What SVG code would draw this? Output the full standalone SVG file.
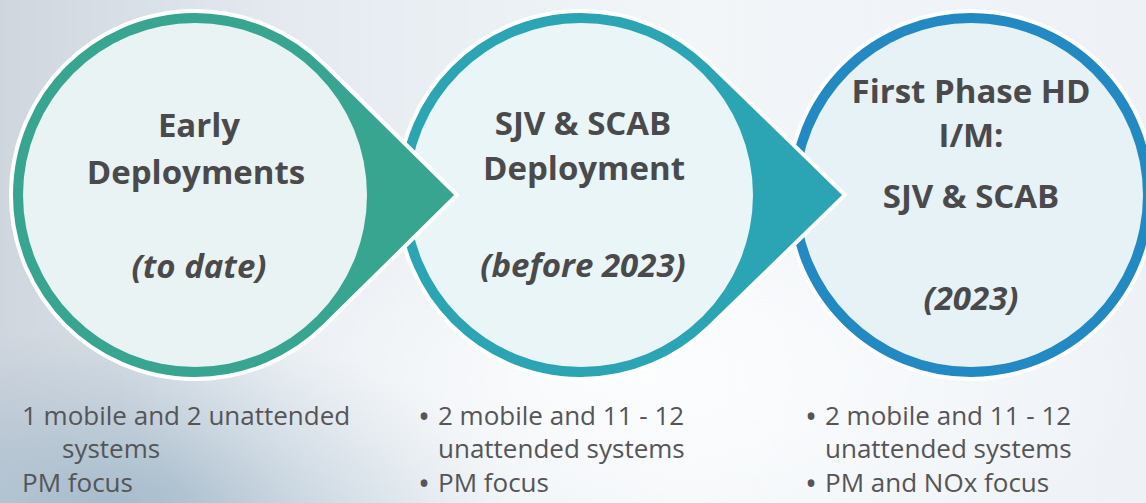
<svg xmlns="http://www.w3.org/2000/svg" width="1146" height="503" viewBox="0 0 1146 503">
  <defs>
    <linearGradient id="bg" x1="0" y1="0" x2="1" y2="0">
      <stop offset="0" stop-color="#d0d6de"/>
      <stop offset="0.25" stop-color="#e4eaf0"/>
      <stop offset="0.6" stop-color="#f2f6f9"/>
      <stop offset="1" stop-color="#eef2f7"/>
    </linearGradient>
    <radialGradient id="shade" cx="0.1" cy="1" r="0.35">
      <stop offset="0" stop-color="#a4bacb" stop-opacity="0.95"/>
      <stop offset="1" stop-color="#a8bccc" stop-opacity="0"/>
    </radialGradient>
    <radialGradient id="glow" cx="0.55" cy="0.75" r="0.45">
      <stop offset="0" stop-color="#ffffff" stop-opacity="0.8"/>
      <stop offset="1" stop-color="#ffffff" stop-opacity="0"/>
    </radialGradient>
    <style>
      .drop { stroke: #ffffff; stroke-width: 4; stroke-linejoin: miter; }
      .inner { stroke: none; }
      .head { font-family: "Open Sans", "Liberation Sans", sans-serif; font-weight: bold; font-size: 33px; fill: #4a4a4c; text-anchor: middle; }
      .ital { font-style: italic; }
      .body { font-family: "Open Sans", "Liberation Sans", sans-serif; font-size: 26px; fill: #555557; }
      .bul { font-size: 32px; }
    </style>
  </defs>

  <rect x="0" y="0" width="1146" height="503" fill="url(#bg)"/>
  <rect x="0" y="0" width="1146" height="503" fill="url(#shade)"/>
  <rect x="0" y="0" width="1146" height="503" fill="url(#glow)"/>

  <g id="node3">
    <circle cx="971" cy="195" r="184" class="drop" fill="#2389c3"/>
    <circle cx="971" cy="195" r="172" class="inner" fill="#e6f2f6"/>
    <text class="head" x="971" y="103">First Phase HD</text>
    <text class="head" x="971" y="147">I/M:</text>
    <text class="head" x="971" y="208">SJV &amp; SCAB</text>
    <text class="head ital" x="971" y="310">(2023)</text>
  </g>

  <g id="node2">
    <path d="M845,195 L709.3,63.1 A184,184 0 1 0 709.3,326.9 Z" class="drop" fill="#2ba5b3"/>
    <circle cx="581" cy="195" r="172" class="inner" fill="#eaf5f7"/>
    <text class="head" x="583" y="135">SJV &amp; SCAB</text>
    <text class="head" x="584" y="180">Deployment</text>
    <text class="head ital" x="583" y="277">(before 2023)</text>
  </g>

  <g id="node1">
    <path d="M457,195 L324.2,64 A184,184 0 1 0 324.2,326 Z" class="drop" fill="#37a590"/>
    <circle cx="195" cy="195" r="172" class="inner" fill="#e9f3f3"/>
    <text class="head" x="199" y="137">Early</text>
    <text class="head" x="196" y="184">Deployments</text>
    <text class="head ital" x="199" y="278">(to date)</text>
  </g>

  <g id="connectors"></g>

  <g id="notes1">
    <text class="body" x="22" y="425">1 mobile and 2 unattended</text>
    <text class="body" x="62" y="458">systems</text>
    <text class="body" x="22" y="492">PM focus</text>
  </g>
  <g id="notes2">
    <text class="body"><tspan class="bul" x="418" y="428">•</tspan><tspan x="438" y="425">2 mobile and 11 - 12</tspan></text>
    <text class="body" x="438" y="458">unattended systems</text>
    <text class="body"><tspan class="bul" x="418" y="495">•</tspan><tspan x="438" y="492">PM focus</tspan></text>
  </g>
  <g id="notes3">
    <text class="body"><tspan class="bul" x="805" y="428">•</tspan><tspan x="825" y="425">2 mobile and 11 - 12</tspan></text>
    <text class="body" x="825" y="458">unattended systems</text>
    <text class="body"><tspan class="bul" x="805" y="495">•</tspan><tspan x="825" y="492">PM and NOx focus</tspan></text>
  </g>
</svg>
